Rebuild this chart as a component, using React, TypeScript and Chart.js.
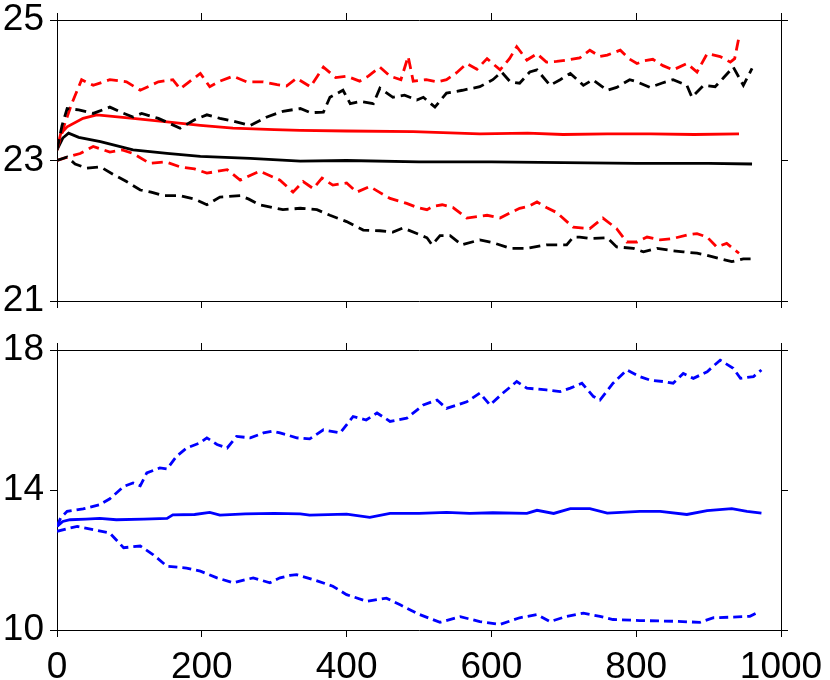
import React, { useEffect, useRef } from "react";
import { Chart, registerables } from "chart.js";

Chart.register(...registerables);

// ---------- tick labels ----------
const xTicks = [0, 200, 400, 600, 800, 1000];
const topYTicks = [21, 23, 25];
const bottomYTicks = [10, 14, 18];

// ---------- top panel: red series ----------
const redMeanX = [0, 5, 14, 36, 55, 105, 152, 198, 243, 300, 336, 400, 492, 584, 650, 699, 760, 820, 880, 942];
const redMeanY = [23.15, 23.38, 23.48, 23.6, 23.65, 23.6, 23.55, 23.5, 23.46, 23.44, 23.43, 23.42, 23.41, 23.38, 23.39, 23.37, 23.38, 23.38, 23.37, 23.38];

const redUpperX = [0, 10, 20, 34, 50, 73, 96, 115, 140, 160, 170, 198, 211, 225, 243, 262, 285, 304, 317, 331, 350, 368, 385, 400, 418, 430, 446, 460, 475, 485, 492, 510, 525, 538, 552, 566, 580, 594, 612, 625, 635, 649, 663, 676, 690, 705, 722, 736, 750, 760, 778, 790, 801, 812, 823, 837, 851, 870, 884, 898, 916, 930, 936, 942];
const redUpperY = [23.15, 23.5, 23.8, 24.15, 24.07, 24.15, 24.12, 24.0, 24.12, 24.15, 24.02, 24.24, 24.05, 24.13, 24.2, 24.12, 24.12, 24.08, 24.06, 24.17, 24.05, 24.33, 24.18, 24.2, 24.13, 24.2, 24.33, 24.2, 24.15, 24.48, 24.13, 24.15, 24.12, 24.15, 24.25, 24.38, 24.3, 24.45, 24.29, 24.45, 24.62, 24.43, 24.52, 24.4, 24.41, 24.43, 24.46, 24.57, 24.48, 24.5, 24.57, 24.45, 24.38, 24.42, 24.44, 24.35, 24.29, 24.38, 24.26, 24.52, 24.48, 24.4, 24.45, 24.76];

const redLowerX = [0, 15, 32, 50, 73, 90, 105, 128, 150, 170, 190, 207, 235, 253, 280, 295, 308, 326, 340, 354, 366, 381, 400, 414, 432, 445, 460, 483, 498, 511, 520, 532, 547, 566, 580, 594, 612, 625, 639, 652, 663, 676, 690, 713, 736, 754, 773, 787, 801, 815, 833, 851, 870, 884, 898, 911, 925, 942];
const redLowerY = [23.0, 23.05, 23.1, 23.2, 23.12, 23.15, 23.1, 22.96, 22.98, 22.91, 22.88, 22.82, 22.87, 22.72, 22.85, 22.78, 22.72, 22.55, 22.7, 22.6, 22.75, 22.65, 22.68, 22.55, 22.63, 22.55, 22.46, 22.39, 22.33, 22.3, 22.35, 22.37, 22.33, 22.18, 22.2, 22.22, 22.18, 22.25, 22.32, 22.35, 22.41, 22.33, 22.26, 22.05, 22.03, 22.18, 22.03, 21.84, 21.84, 21.91, 21.87, 21.89, 21.94, 21.96, 21.91, 21.77, 21.82, 21.68];

// ---------- top panel: black series ----------
const blackMeanX = [0, 8, 16, 30, 60, 105, 152, 198, 267, 336, 400, 500, 600, 700, 800, 900, 960];
const blackMeanY = [23.15, 23.32, 23.39, 23.33, 23.27, 23.15, 23.1, 23.06, 23.03, 22.99, 23.0, 22.98, 22.98, 22.97, 22.96, 22.96, 22.95];

const blackUpperX = [0, 7, 14, 30, 50, 73, 90, 105, 117, 140, 170, 190, 207, 225, 243, 267, 290, 312, 336, 350, 368, 377, 395, 405, 420, 437, 446, 464, 480, 497, 506, 522, 538, 560, 584, 602, 614, 626, 639, 653, 663, 681, 695, 709, 727, 740, 760, 773, 791, 801, 819, 835, 851, 870, 877, 893, 909, 920, 934, 948, 960];
const blackUpperY = [23.15, 23.5, 23.74, 23.72, 23.67, 23.76, 23.68, 23.62, 23.67, 23.6, 23.46, 23.58, 23.65, 23.6, 23.56, 23.5, 23.62, 23.7, 23.74, 23.68, 23.69, 23.9, 24.0, 23.81, 23.84, 23.81, 24.03, 23.9, 23.93, 23.86, 23.9, 23.76, 23.96, 24.0, 24.05, 24.15, 24.26, 24.12, 24.1, 24.26, 24.29, 24.07, 24.15, 24.24, 24.07, 24.15, 24.0, 24.04, 24.15, 24.12, 24.04, 24.1, 24.15, 24.07, 23.9, 24.07, 24.05, 24.17, 24.33, 24.07, 24.31];

const blackLowerX = [0, 14, 25, 41, 60, 78, 96, 115, 130, 147, 170, 190, 207, 225, 253, 265, 280, 312, 336, 359, 377, 400, 423, 446, 464, 478, 497, 511, 518, 529, 543, 559, 584, 602, 626, 649, 676, 704, 713, 722, 736, 760, 773, 796, 810, 829, 847, 865, 884, 898, 916, 932, 948, 958];
const blackLowerY = [23.0, 23.05, 22.95, 22.89, 22.91, 22.8, 22.7, 22.58, 22.55, 22.5, 22.5, 22.45, 22.37, 22.48, 22.5, 22.45, 22.37, 22.3, 22.32, 22.3, 22.22, 22.13, 22.01, 22.0, 21.98, 22.04, 21.96, 21.9, 21.8, 21.93, 21.93, 21.8, 21.87, 21.83, 21.75, 21.75, 21.8, 21.8, 21.91, 21.91, 21.89, 21.9, 21.77, 21.75, 21.7, 21.75, 21.72, 21.7, 21.68, 21.65, 21.6, 21.56, 21.6, 21.6];

// ---------- bottom panel: blue series ----------
const blueMeanX = [0, 8, 18, 40, 59, 82, 120, 152, 160, 190, 211, 225, 260, 300, 336, 349, 400, 432, 460, 500, 538, 570, 602, 649, 663, 686, 709, 722, 736, 760, 805, 833, 870, 898, 932, 953, 973];
const blueMeanY = [12.96, 13.1, 13.15, 13.17, 13.19, 13.15, 13.17, 13.19, 13.29, 13.3, 13.36, 13.28, 13.32, 13.33, 13.32, 13.28, 13.31, 13.22, 13.33, 13.33, 13.36, 13.33, 13.35, 13.33, 13.42, 13.33, 13.47, 13.47, 13.47, 13.34, 13.39, 13.39, 13.3, 13.41, 13.47, 13.39, 13.34];

const blueUpperX = [0, 5, 14, 36, 59, 73, 92, 105, 115, 124, 142, 152, 165, 179, 198, 207, 221, 235, 248, 267, 285, 298, 308, 317, 331, 349, 368, 391, 409, 427, 442, 460, 483, 506, 525, 538, 566, 584, 598, 616, 635, 649, 676, 695, 709, 725, 741, 750, 768, 787, 805, 819, 837, 851, 865, 879, 898, 916, 934, 944, 962, 973];
const blueUpperY = [12.96, 13.2, 13.39, 13.46, 13.58, 13.75, 14.1, 14.2, 14.12, 14.49, 14.63, 14.6, 14.96, 15.2, 15.35, 15.49, 15.3, 15.2, 15.53, 15.49, 15.63, 15.68, 15.63, 15.58, 15.49, 15.46, 15.72, 15.63, 16.1, 16.0, 16.2, 15.96, 16.05, 16.43, 16.57, 16.33, 16.52, 16.77, 16.43, 16.77, 17.1, 16.91, 16.86, 16.81, 16.91, 17.05, 16.67, 16.57, 17.05, 17.43, 17.24, 17.14, 17.1, 17.05, 17.33, 17.19, 17.38, 17.71, 17.48, 17.19, 17.24, 17.43];

const blueLowerX = [0, 15, 28, 50, 73, 92, 115, 133, 152, 179, 198, 221, 243, 271, 294, 308, 322, 331, 354, 381, 400, 428, 455, 474, 501, 529, 557, 584, 612, 639, 663, 681, 704, 727, 750, 768, 805, 851, 888, 907, 934, 957, 967];
const blueLowerY = [12.82, 12.9, 12.96, 12.87, 12.77, 12.35, 12.4, 12.15, 11.82, 11.77, 11.68, 11.49, 11.35, 11.49, 11.35, 11.49, 11.56, 11.58, 11.44, 11.25, 11.01, 10.82, 10.91, 10.72, 10.44, 10.22, 10.38, 10.24, 10.16, 10.35, 10.44, 10.24, 10.39, 10.48, 10.39, 10.3, 10.27, 10.25, 10.22, 10.35, 10.37, 10.39, 10.49];

// ---------- helpers ----------
const zip = (xs: number[], ys: number[]) => xs.map((x, i) => ({ x, y: ys[i] }));

const FONT = { family: "'Liberation Sans', Arial, Helvetica, sans-serif", size: 37 };

function axis(
  position: string,
  min: number,
  max: number,
  ticks: number[],
  showLabels: boolean,
  size: { w?: number; h?: number },
  padding = 6
) {
  return {
    type: "linear",
    position,
    min,
    max,
    afterBuildTicks: (s: any) => {
      s.ticks = ticks.map((v) => ({ value: v }));
    },
    afterFit: (s: any) => {
      if (size.w !== undefined) s.width = size.w;
      if (size.h !== undefined) s.height = size.h;
      s.paddingTop = 0;
      s.paddingBottom = 0;
      s.paddingLeft = 0;
      s.paddingRight = 0;
    },
    grid: { drawOnChartArea: false, drawTicks: true, tickLength: 7, color: "#000", lineWidth: 1 },
    border: { display: true, color: "#000", width: 1 },
    ticks: {
      display: showLabels,
      color: "#000",
      font: FONT,
      padding,
      autoSkip: false,
      maxRotation: 0,
      minRotation: 0,
      callback: (v: any) => String(v),
    },
  };
}

function line(data: { x: number; y: number }[], color: string, dashed: boolean, dash: number[]) {
  return {
    data,
    borderColor: color,
    backgroundColor: color,
    borderWidth: 2.8,
    borderDash: dashed ? dash : [],
    pointRadius: 0,
    tension: 0,
    fill: false,
    xAxisID: "x",
    yAxisID: "y",
  };
}

function baseOptions(scales: any) {
  return {
    responsive: false,
    animation: false,
    devicePixelRatio: 1,
    events: [],
    layout: { padding: 0 },
    plugins: { legend: { display: false }, tooltip: { enabled: false } },
    scales,
  };
}

export default function App() {
  const topRef = useRef<HTMLCanvasElement>(null);
  const botRef = useRef<HTMLCanvasElement>(null);

  useEffect(() => {
    const rd = [11, 6];
    const top = new Chart(topRef.current as HTMLCanvasElement, {
      type: "line",
      data: {
        datasets: [
          line(zip(blackUpperX, blackUpperY), "#000000", true, rd),
          line(zip(blackLowerX, blackLowerY), "#000000", true, rd),
          line(zip(redUpperX, redUpperY), "#ff0000", true, rd),
          line(zip(redLowerX, redLowerY), "#ff0000", true, rd),
          line(zip(blackMeanX, blackMeanY), "#000000", false, rd),
          line(zip(redMeanX, redMeanY), "#ff0000", false, rd),
        ] as any,
      },
      options: baseOptions({
        x: axis("bottom", 0, 1000, xTicks, false, { h: 29 }),
        xTop: axis("top", 0, 1000, xTicks, false, { h: 20 }),
        y: axis("left", 21, 25, topYTicks, true, { w: 57 }),
        yRight: axis("right", 21, 25, topYTicks, false, { w: 49 }),
      }) as any,
    });

    const bd = [9, 5];
    const bot = new Chart(botRef.current as HTMLCanvasElement, {
      type: "line",
      data: {
        datasets: [
          line(zip(blueUpperX, blueUpperY), "#0000ff", true, bd),
          line(zip(blueLowerX, blueLowerY), "#0000ff", true, bd),
          line(zip(blueMeanX, blueMeanY), "#0000ff", false, bd),
        ] as any,
      },
      options: baseOptions({
        x: axis("bottom", 0, 1000, xTicks, true, { h: 50 }, 9),
        xTop: axis("top", 0, 1000, xTicks, false, { h: 20 }),
        y: axis("left", 10, 18, bottomYTicks, true, { w: 57 }),
        yRight: axis("right", 10, 18, bottomYTicks, false, { w: 49 }),
      }) as any,
    });

    return () => {
      top.destroy();
      bot.destroy();
    };
  }, []);

  return (
    <div style={{ position: "absolute", left: 0, top: 0, width: 830, height: 680, background: "#fff" }}>
      <canvas ref={topRef} width={830} height={330} style={{ position: "absolute", left: 0, top: 0 }} />
      <canvas ref={botRef} width={830} height={350} style={{ position: "absolute", left: 0, top: 330 }} />
    </div>
  );
}
